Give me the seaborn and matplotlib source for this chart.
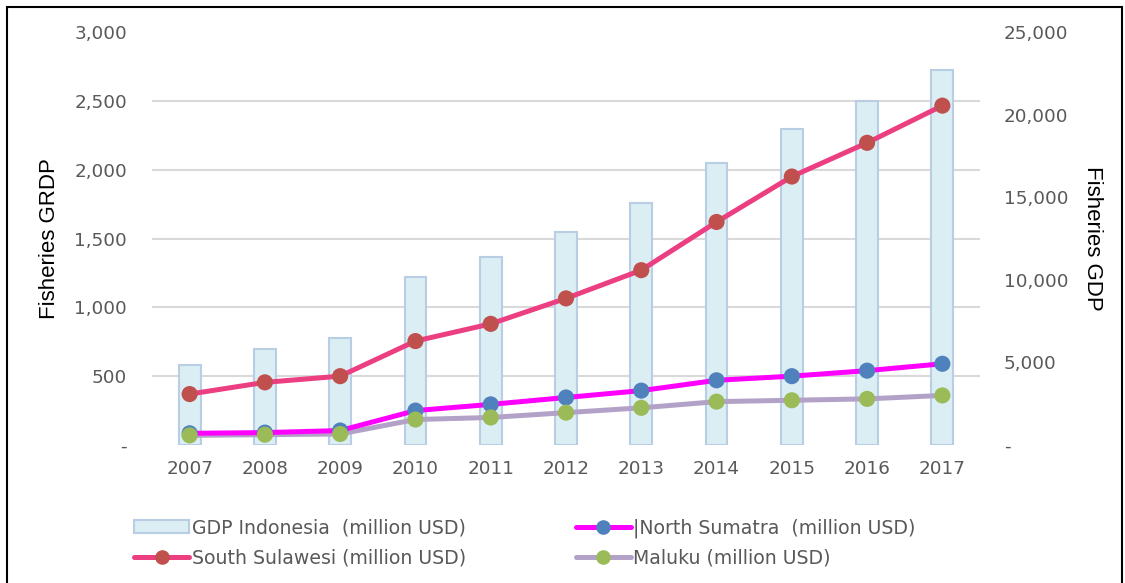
import numpy as np
import pandas as pd
import matplotlib
matplotlib.use("Agg")
import matplotlib.pyplot as plt
from matplotlib.ticker import FuncFormatter, MultipleLocator
from matplotlib.lines import Line2D
from matplotlib.patches import Patch, Rectangle
import seaborn as sns

# ---- data ----
years = ["2007", "2008", "2009", "2010", "2011", "2012", "2013", "2014", "2015", "2016", "2017"]
gdp_indonesia = [4850, 5800, 6500, 10150, 11350, 12900, 14650, 17100, 19100, 20800, 22700]
south_sulawesi = [370, 455, 500, 755, 880, 1065, 1270, 1620, 1950, 2195, 2465]
north_sumatra = [85, 90, 105, 250, 295, 345, 395, 470, 500, 540, 590]
maluku = [70, 75, 80, 185, 200, 235, 270, 315, 325, 335, 360]

label_gdp = "GDP Indonesia  (million USD)"
label_ns = "|North Sumatra  (million USD)"
label_ss = "South Sulawesi (million USD)"
label_ml = "Maluku (million USD)"

sns.set_style("white")
plt.rcParams["font.family"] = ["DejaVu Sans"]

GRID = "#D9D9D9"
TICK = "#595959"
TICK_FS = 13.2
LEG_FS = 13.6

fig = plt.figure(figsize=(11.25, 5.83), dpi=100)
ax = fig.add_axes([152 / 1125, 1 - 445 / 583, (980 - 152) / 1125, (445 - 32) / 583])
ax2 = ax.twinx()

pos = np.arange(len(years))
df = pd.DataFrame({"year": years, "pos": pos, "gdp": gdp_indonesia,
                   "ss": south_sulawesi, "ns": north_sumatra, "ml": maluku})

# bars (right axis)
sns.barplot(data=df, x="year", y="gdp", ax=ax2, color="#DAEEF3",
            edgecolor="#B9CDE5", linewidth=1.5, width=0.29, saturation=1)
ax2.set_ylim(0, 25000)
ax2.yaxis.set_major_locator(MultipleLocator(5000))
ax2.set_yticks(np.linspace(0, 25000, 7), minor=True)
ax2.grid(which="minor", axis="y", color=GRID, linewidth=1.5)
ax2.grid(which="major", visible=False)
ax2.set_axisbelow(True)

# lines (left axis), on top
ax.set_zorder(ax2.get_zorder() + 1)
ax.patch.set_visible(False)
# (column, line colour, marker colour, line zorder, marker zorder)
series = [("ml", "#B3A2C7", "#9BBB59", 3, 7),
          ("ns", "#FF00FF", "#4F81BD", 4, 6),
          ("ss", "#EC3F82", "#C0504D", 5, 8)]
for col, lc, mc, lz, mz in series:
    sns.lineplot(data=df, x="pos", y=col, ax=ax, color=lc, linewidth=3.6,
                 zorder=lz, legend=False)
    sns.scatterplot(data=df, x="pos", y=col, ax=ax, color=mc, s=135,
                    edgecolor="none", zorder=mz, legend=False)

ax.set_xlim(-0.5, len(years) - 0.5)
ax.set_ylim(0, 3000)
ax.yaxis.set_major_locator(MultipleLocator(500))
ax.grid(False)
ax.set_xticks(pos)
ax.set_xticklabels(years)
ax.set_xlabel("")
ax2.set_xlabel("")

fmt = FuncFormatter(lambda v, p: "-" if abs(v) < 1e-9 else f"{v:,.0f}")
ax.yaxis.set_major_formatter(fmt)
ax2.yaxis.set_major_formatter(fmt)

for a in (ax, ax2):
    for s in a.spines.values():
        s.set_visible(False)
    a.tick_params(axis="both", which="both", length=0, labelsize=TICK_FS, labelcolor=TICK)
ax.tick_params(axis="y", pad=18)
ax2.tick_params(axis="y", pad=17.3)
ax.tick_params(axis="x", pad=11)

ax.set_ylabel("Fisheries GRDP", fontsize=16, color="black", labelpad=10,
              family=["Liberation Sans", "DejaVu Sans"])
ax2.set_ylabel("Fisheries GDP", fontsize=16, color="black", rotation=270,
               va="bottom", labelpad=9.5, family=["Liberation Sans", "DejaVu Sans"])

# legend
handles = [
    Patch(facecolor="#DAEEF3", edgecolor="#B9CDE5", linewidth=1.5),
    Line2D([], [], color="#EC3F82", lw=3.6, marker="o", markersize=9.5,
           markerfacecolor="#C0504D", markeredgecolor="#C0504D"),
    Line2D([], [], color="#FF00FF", lw=3.6, marker="o", markersize=9.5,
           markerfacecolor="#4F81BD", markeredgecolor="#4F81BD"),
    Line2D([], [], color="#B3A2C7", lw=3.6, marker="o", markersize=9.5,
           markerfacecolor="#9BBB59", markeredgecolor="#9BBB59"),
]
labels = [label_gdp, label_ss, label_ns, label_ml]
leg = fig.legend(handles, labels, ncol=2, loc="upper left",
                 bbox_to_anchor=(125 / 1125, 1 - 509 / 583), frameon=False,
                 fontsize=LEG_FS, handlelength=2.9, handletextpad=0.15,
                 columnspacing=5.8, labelspacing=0.58, borderpad=0)
for t in leg.get_texts():
    t.set_color(TICK)

# figure border
fig.patches.append(Rectangle((7 / 1125, -0.02), (1122 - 7) / 1125, 1.02 - 7 / 583,
                             transform=fig.transFigure, fill=False,
                             edgecolor="black", linewidth=1.5))

fig.savefig("out.png", dpi=100)
